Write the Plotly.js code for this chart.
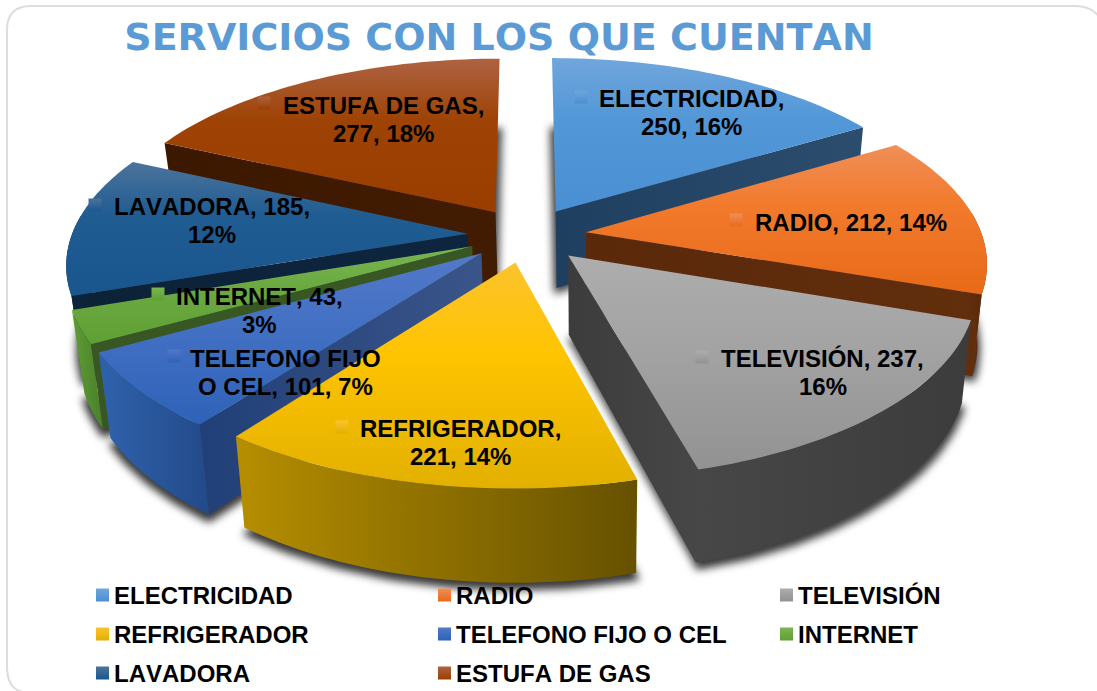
<!DOCTYPE html>
<html><head><meta charset="utf-8">
<script src="https://cdn.plot.ly/plotly-3.0.1.min.js"></script>
<style>html,body{margin:0;padding:0;background:#fff}#c{width:1097px;height:691px}svg text{font-kerning:none !important}</style>
</head><body><div id="c"></div>
<script>
// ---- data ----
const categories = ["ELECTRICIDAD","RADIO","TELEVISIÓN","REFRIGERADOR","TELEFONO FIJO O CEL","INTERNET","LAVADORA","ESTUFA DE GAS"];
const values = [250,212,237,221,101,43,185,277];
const percents = [16,14,16,14,7,3,12,18];
const titleText = "SERVICIOS CON LOS QUE CUENTAN";
// where each data label wraps: text of the first line / second line
const labelLine1 = ["ELECTRICIDAD,","RADIO, 212, 14%","TELEVISIÓN, 237,","REFRIGERADOR,","TELEFONO FIJO","INTERNET, 43,","LAVADORA, 185,","ESTUFA DE GAS,"];
const labelLine2 = ["250, 16%","","16%","221, 14%","O CEL, 101, 7%","3%","12%","277, 18%"];

// ---- styles ----
const topLight  = ["#70A6DC","#EF8F58","#ADADAD","#FCC32E","#5379C9","#79B553","#4C739B","#AE6242"];
const topMid    = ["#5297D7","#F27A2C","#A4A4A4","#FFC400","#4471C4","#6BAA41","#1F5C92","#9E4305"];
const topDark   = ["#4A8FD2","#E86A18","#929292","#E2B000","#2E62B8","#5FA034","#1A568E","#9A3E00"];
const wallLight = ["#2C4D6E","#622F0D","#474747","#B68E00","#3A5589","#385723","#0E2540","#421C02"];
const wallDark  = ["#1F3F60","#5A290A","#3C3C3C","#665100","#213F78","#385723","#0C2236","#3C1800"];
const outerLight= ["#2C4D6E","#622F0D","#474747","#B68E00","#2F62AC","#5F9E36","#0E2540","#421C02"];
const outerDark = ["#1F3F60","#5A290A","#3C3C3C","#665100","#234A8A","#4A7F2A","#0C2236","#3C1800"];
const drawOrder = [7,0,6,1,5,2,4,3];

// ---- camera ----
const cx=527, cy=235, A=183, B=396, K=0.15, H=78, PULL=0.15, VPX=590, CONV=0.024;
function proj(X,Y,z){
  const d=1+K*Y; let sx=cx+B*X/d; const sy=cy-A*Y/d+H*z/d;
  sx+=(VPX-sx)*CONV*z; return [sx,sy];
}
const rad=a=>a*Math.PI/180;
const total=values.reduce((a,b)=>a+b,0);
const starts=[]; let acc=0; values.forEach(v=>{starts.push(acc);acc+=v/total*360;});
function apex(i,z){
  const b=rad(starts[i]+values[i]/total*180);
  return proj(PULL*Math.sin(b),PULL*Math.cos(b),z);
}
function rim(i,a,z){
  const b=rad(starts[i]+values[i]/total*180), t=rad(a);
  return proj(PULL*Math.sin(b)+Math.sin(t),PULL*Math.cos(b)+Math.cos(t),z);
}
function arcAngles(a0,a1){const n=Math.max(2,Math.ceil((a1-a0)/1.5));const o=[];for(let k=0;k<=n;k++)o.push(a0+(a1-a0)*k/n);return o;}
function poly(pts,name,scale,type){
  return {type:'scatter',mode:'none',fill:'toself',x:pts.map(p=>p[0]),y:pts.map(p=>p[1]),name:name,
    hoverinfo:'skip',showlegend:false,fillcolor:scale[0][1],
    fillgradient:{type:type,colorscale:scale}};
}
const traces=[]; const shadowIdx=[];
drawOrder.forEach(i=>{
  const a0=starts[i], a1=a0+values[i]/total*360, name=categories[i];
  // soft shadow under the slice floor
  const floor=[apex(i,1)].concat(arcAngles(a0,a1).map(a=>rim(i,a,1)));
  shadowIdx.push(traces.length);
  traces.push({type:'scatter',mode:'lines',fill:'toself',x:floor.map(p=>p[0]),y:floor.map(p=>p[1]+5),
    line:{color:'rgba(0,0,0,0.75)',width:5},fillcolor:'rgba(0,0,0,0.75)',hoverinfo:'skip',showlegend:false,name:name+' sombra'});
  // radial walls facing the viewer
  const radial=(a)=>[apex(i,0),rim(i,a,0),rim(i,a,1),apex(i,1)];
  if(Math.sin(rad(a0))<-0.01) traces.push(poly(radial(a0),name,[[0,wallDark[i]],[1,wallLight[i]]],'horizontal'));
  if(Math.sin(rad(a1))>0.01) traces.push(poly(radial(a1),name,[[0,wallDark[i]],[1,wallLight[i]]],'horizontal'));
  // outer wall
  const as=arcAngles(a0,a1).filter(a=>Math.cos(rad(a))<0.12);
  if(as.length>1){
    const pts=as.map(a=>rim(i,a,0)).concat(as.slice().reverse().map(a=>rim(i,a,1)));
    traces.push(poly(pts,name,[[0,outerLight[i]],[1,outerDark[i]]],'horizontal'));
  }
  // top face
  const top=[apex(i,0)].concat(arcAngles(a0,a1).map(a=>rim(i,a,0)));
  traces.push(poly(top,name,[[0,topDark[i]],[0.6,topMid[i]],[1,topLight[i]]],'vertical'));
});

// ---- label and legend keys ----
const labelX=[692,851,823,461,286,260,212,384];
const labelY=[98,222,358,428,358,296,206,105];
const labelKeyX=[581,736,702,342,174,158,95,264];
const labelKeyY=[97,220,357,427,356,294,205,103];
const legendCol=[96,438,780], legendRow=[595,634,673];
const legendKeyX=categories.map((c,i)=>legendCol[i%3]+6.5);
const legendKeyY=categories.map((c,i)=>legendRow[Math.floor(i/3)]);
const keyTrace=(x,y,size,name)=>({type:'scatter',mode:'markers',x:x,y:y,hoverinfo:'skip',showlegend:false,name:name,
  marker:{symbol:'square',size:size,color:topLight,line:{width:0},gradient:{type:'vertical',color:topDark}}});
traces.push(keyTrace(labelKeyX,labelKeyY,13,'claves'));
traces.push(keyTrace(legendKeyX,legendKeyY,13,'leyenda'));

const txtFont={family:'"Liberation Sans",Arial,sans-serif',size:24,color:'#000'};
const annotations=[];
const note=(x,y,text,anchor)=>annotations.push({xref:'x',yref:'y',x:x,y:y,text:text,showarrow:false,xanchor:anchor,yanchor:'middle',font:txtFont,borderpad:0,borderwidth:0});
categories.forEach((c,i)=>{
  note(labelX[i]-0.5,labelY[i],'<b>'+labelLine1[i]+'</b>','center');
  if(labelLine2[i]) note(labelX[i]-0.5,labelY[i]+28,'<b>'+labelLine2[i]+'</b>','center');
  note(legendCol[i%3]+18,legendKeyY[i],'<b>'+c+'</b>','left');
});

const layout={
  width:1097,height:691,margin:{l:0,r:0,t:0,b:0},paper_bgcolor:'#fff',plot_bgcolor:'rgba(0,0,0,0)',
  showlegend:false,hovermode:false,
  xaxis:{range:[0,1097],visible:false,fixedrange:true},
  yaxis:{range:[691,0],visible:false,fixedrange:true},
  title:{text:'<b>'+titleText+'</b>',x:499/1097,xref:'paper',xanchor:'center',y:1-37/691,yref:'container',yanchor:'middle',
    font:{family:'"DejaVu Sans",Verdana,sans-serif',size:38,color:'#5B9BD5'}},
  annotations:annotations,
  shapes:[{type:'path',layer:'below',xref:'x',yref:'y',path:'M 7 30 Q 7 6 31 6 L 1075 6 Q 1099 6 1105 30 L 1105 692 L 24 692 Q 7 690 7 666 Z',
    line:{color:'#DDDDDD',width:2},fillcolor:'#fff'}]
};
Plotly.newPlot('c',traces,layout,{displayModeBar:false,staticPlot:true}).then(gd=>{
  const groups=gd.querySelectorAll('.scatterlayer .trace');
  shadowIdx.forEach(k=>{ if(groups[k]) groups[k].style.filter='blur(4px)'; });
});
</script></body></html>
